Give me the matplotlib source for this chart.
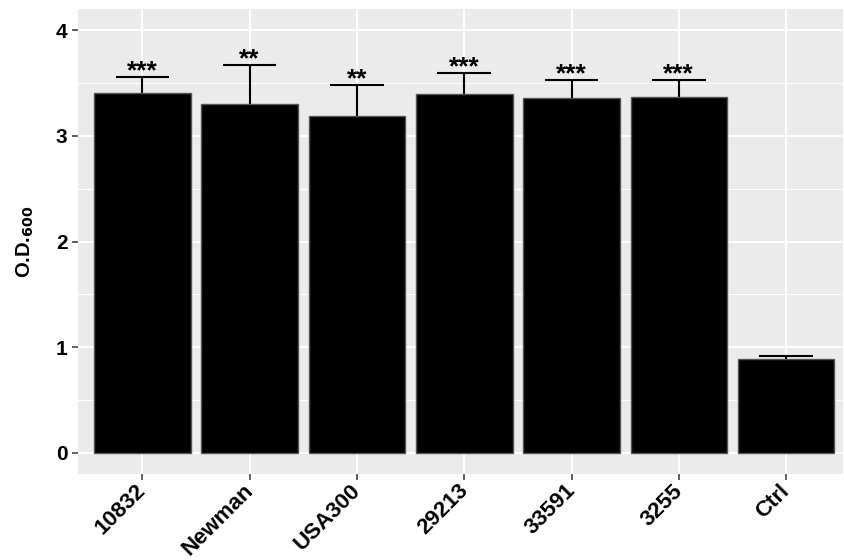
import matplotlib.pyplot as plt
import matplotlib.transforms as mtransforms
import numpy as np

strains = ["10832", "Newman", "USA300", "29213", "33591", "3255", "Ctrl"]
od_mean = [3.405, 3.30, 3.185, 3.40, 3.355, 3.365, 0.886]
od_err = [0.152, 0.367, 0.295, 0.19, 0.17, 0.16, 0.034]
stars = ["***", "**", "**", "***", "***", "***", ""]

plt.rcParams['font.family'] = ['Liberation Sans', 'DejaVu Sans']

fig = plt.figure(figsize=(8.44, 5.6), dpi=100)
ax = fig.add_axes([78 / 844, 1 - 474 / 560, 765 / 844, 465 / 560])
ax.set_facecolor("#ebebeb")

x = np.arange(len(strains))
tops = np.array(od_mean) + np.array(od_err)
# upper whisker only, like the original
ax.vlines(x, od_mean, tops, color="black", linewidth=1.5, zorder=2)
ax.hlines(tops, x - 0.25, x + 0.25, color="black", linewidth=1.5, zorder=2)
ax.bar(x, od_mean, width=0.9, color="black", edgecolor="#555555", linewidth=1, zorder=3)

for xi, t, s in zip(x, tops, stars):
    if s:
        ax.text(xi, t - 0.06, s, ha="center", va="bottom", fontsize=19, fontweight="bold")

ax.set_xlim(-0.6, 6.53)
ax.set_ylim(-0.2, 4.2)
ax.set_yticks([0, 1, 2, 3, 4])
ax.set_yticks([0.5, 1.5, 2.5, 3.5], minor=True)
ax.set_xticks(x)
ax.set_xticklabels(strains, rotation=45, ha="right", rotation_mode="anchor")
ax.grid(which="major", color="white", linewidth=1.4, zorder=0)
ax.grid(which="minor", axis="y", color="white", linewidth=0.7, zorder=0)
ax.set_axisbelow(True)
for sp in ax.spines.values():
    sp.set_visible(False)
ax.tick_params(axis="both", which="major", length=4, color="#444444", width=1.2,
               labelsize=15)
ax.tick_params(axis="x", labelsize=16, pad=0.5)
ax.tick_params(axis="y", which="minor", length=0)
shift = mtransforms.ScaledTranslation(-7 / 100, 0, fig.dpi_scale_trans)
for lab in ax.get_xticklabels():
    lab.set_transform(lab.get_transform() + shift)
for lab in ax.get_xticklabels() + ax.get_yticklabels():
    lab.set_fontweight("bold")
ax.set_ylabel(r"O.D.$_{\mathbf{600}}$", fontsize=14.5, fontweight="bold", labelpad=14)

fig.savefig("out.png", dpi=100)
